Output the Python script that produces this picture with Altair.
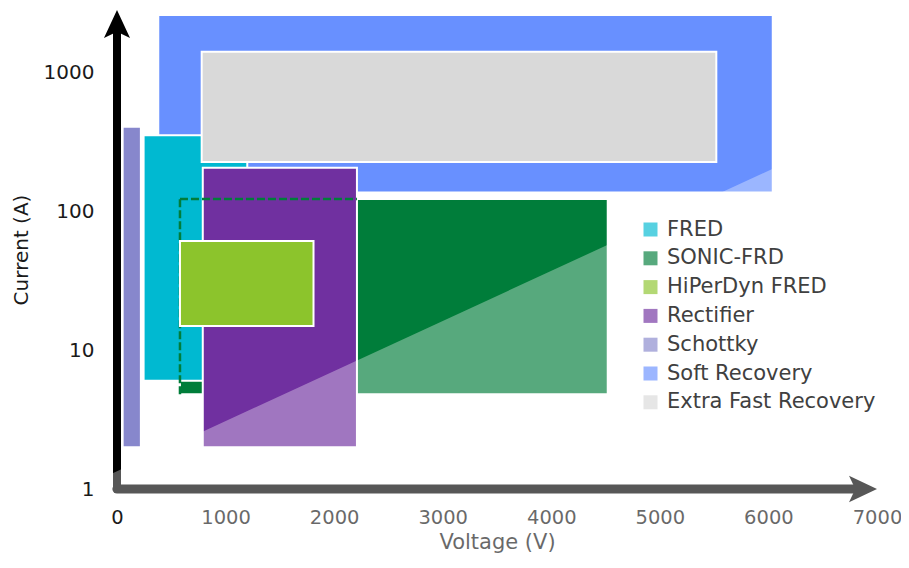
import altair as alt
import pandas as pd

# ---- data (Voltage in V, Current in A) ----
names = ["Soft Recovery", "SONIC-FRD", "FRED", "Extra Fast Recovery", "Rectifier", "Schottky", "HiPerDyn FRED"]
v_low = [380, 580, 245, 780, 790, 52, 580]
v_high = [6040, 4520, 1200, 5520, 2210, 220, 1810]
i_low = [136, 4.8, 6.0, 226, 2.0, 2.0, 14.9]
i_high = [2580, 122, 352, 1400, 205, 404, 60.8]

legend_order = ["FRED", "SONIC-FRD", "HiPerDyn FRED", "Rectifier", "Schottky", "Soft Recovery", "Extra Fast Recovery"]
legend_colors = ["#00b9d1", "#007d3a", "#8cc42c", "#7030a0", "#8787cc", "#6890ff", "#d9d9d9"]

x_ticks = [0, 1000, 2000, 3000, 4000, 5000, 6000, 7000]
y_ticks = [1, 10, 100, 1000]

# hidden outline of SONIC-FRD (top and left edges)
dash_v0 = [580, 580]
dash_v1 = [2210, 580]
dash_i0 = [122, 4.8]
dash_i1 = [122, 122]

# translucent white diagonal sheen (boundary points)
ov_v = [-40, 100, 101, 7250]
ov_top = [1.299, 1.459, 1.459, 551.6]
ov_bot = [0.87, 0.87, 0.3, 0.3]

FONT = "DejaVu Sans"

rects = pd.DataFrame({"name": names, "v0": v_low, "v1": v_high, "i0": i_low, "i1": i_high})
back = rects[rects["name"] != "HiPerDyn FRED"]
front = rects[rects["name"] == "HiPerDyn FRED"]

xs = alt.Scale(domain=[0, 7000], nice=False, zero=False)
ys = alt.Scale(type="log", domain=[1, 2800], nice=False)
cs = alt.Scale(domain=legend_order, range=legend_colors)

x_axis = alt.Axis(values=x_ticks, title="Voltage (V)", grid=False, domain=False, ticks=False,
                  format="d",
                  labelFont=FONT, labelFontSize=19.5, labelColor="#1a1a1a", labelPadding=19,
                  titleFont=FONT, titleFontSize=21, titleFontWeight="normal", titleColor="#1a1a1a",
                  titlePadding=5, labelFlush=False)
y_axis = alt.Axis(values=y_ticks, title="Current (A)", grid=False, domain=False, ticks=False,
                  labelFont=FONT, labelFontSize=20, labelColor="#1a1a1a", labelPadding=23,
                  titleFont=FONT, titleFontSize=20, titleFontWeight="normal", titleColor="#1a1a1a",
                  titlePadding=12, format="d", labelFlush=False)

legend = alt.Legend(title=None, orient="none", legendX=523, legendY=209, padding=0,
                    symbolType="square", symbolSize=196, symbolOpacity=0.66, symbolStrokeWidth=0,
                    labelFont=FONT, labelFontSize=21, labelColor="#404040", labelOffset=6,
                    labelLimit=400, rowPadding=6.8)

back_layer = alt.Chart(back).mark_rect(stroke="white", strokeWidth=2).encode(
    x=alt.X("v0:Q", scale=xs, axis=x_axis),
    x2="v1:Q",
    y=alt.Y("i0:Q", scale=ys, axis=y_axis),
    y2="i1:Q",
    color=alt.Color("name:N", scale=cs, legend=legend),
)

dash_df = pd.DataFrame({"v0": dash_v0, "v1": dash_v1, "i0": dash_i0, "i1": dash_i1})
dash_layer = alt.Chart(dash_df).mark_rule(color="#007d3a", strokeWidth=2.5, strokeDash=[8, 3]).encode(
    x="v0:Q", x2="v1:Q", y="i0:Q", y2="i1:Q")

front_layer = alt.Chart(front).mark_rect(stroke="white", strokeWidth=2).encode(
    x="v0:Q", x2="v1:Q", y="i0:Q", y2="i1:Q",
    color=alt.Color("name:N", scale=cs, legend=legend),
)

# axis arrows
yline = alt.Chart(pd.DataFrame({"v": [0], "a": [1], "b": [2200]})).mark_rule(
    color="black", strokeWidth=8, strokeCap="round", clip=False).encode(x="v:Q", y="a:Q", y2="b:Q")
xline = alt.Chart(pd.DataFrame({"v0": [0], "v1": [6800], "a": [1]})).mark_rule(
    color="black", strokeWidth=9, strokeCap="round", clip=False).encode(x="v0:Q", x2="v1:Q", y="a:Q")
yhead = alt.Chart(pd.DataFrame({"v": [0], "a": [2800]})).mark_point(
    shape="M0,0 L0.93,2 L0,1.55 L-0.93,2 Z", size=784, filled=True, opacity=1, color="black",
    strokeWidth=0, clip=False).encode(x="v:Q", y="a:Q")
xhead = alt.Chart(pd.DataFrame({"v": [7000], "a": [1]})).mark_point(
    shape="M0,0 L-2,-0.95 L-1.55,0 L-2,0.95 Z", size=784, filled=True, opacity=1, color="black",
    strokeWidth=0, clip=False).encode(x="v:Q", y="a:Q")

ov_df = pd.DataFrame({"v": ov_v, "t": ov_top, "b": ov_bot})
overlay = alt.Chart(ov_df).mark_area(color="white", opacity=0.34, clip=False).encode(
    x="v:Q", y="t:Q", y2="b:Q")

chart = alt.layer(back_layer, dash_layer, front_layer, yline, xline, yhead, xhead, overlay).properties(
    width=760, height=479, autosize="none",
    padding={"left": 109, "top": 2, "right": 24, "bottom": 71},
    background="white",
).configure_view(strokeWidth=0)

chart.save("out.html", embed_options={"renderer": "svg", "actions": False})
